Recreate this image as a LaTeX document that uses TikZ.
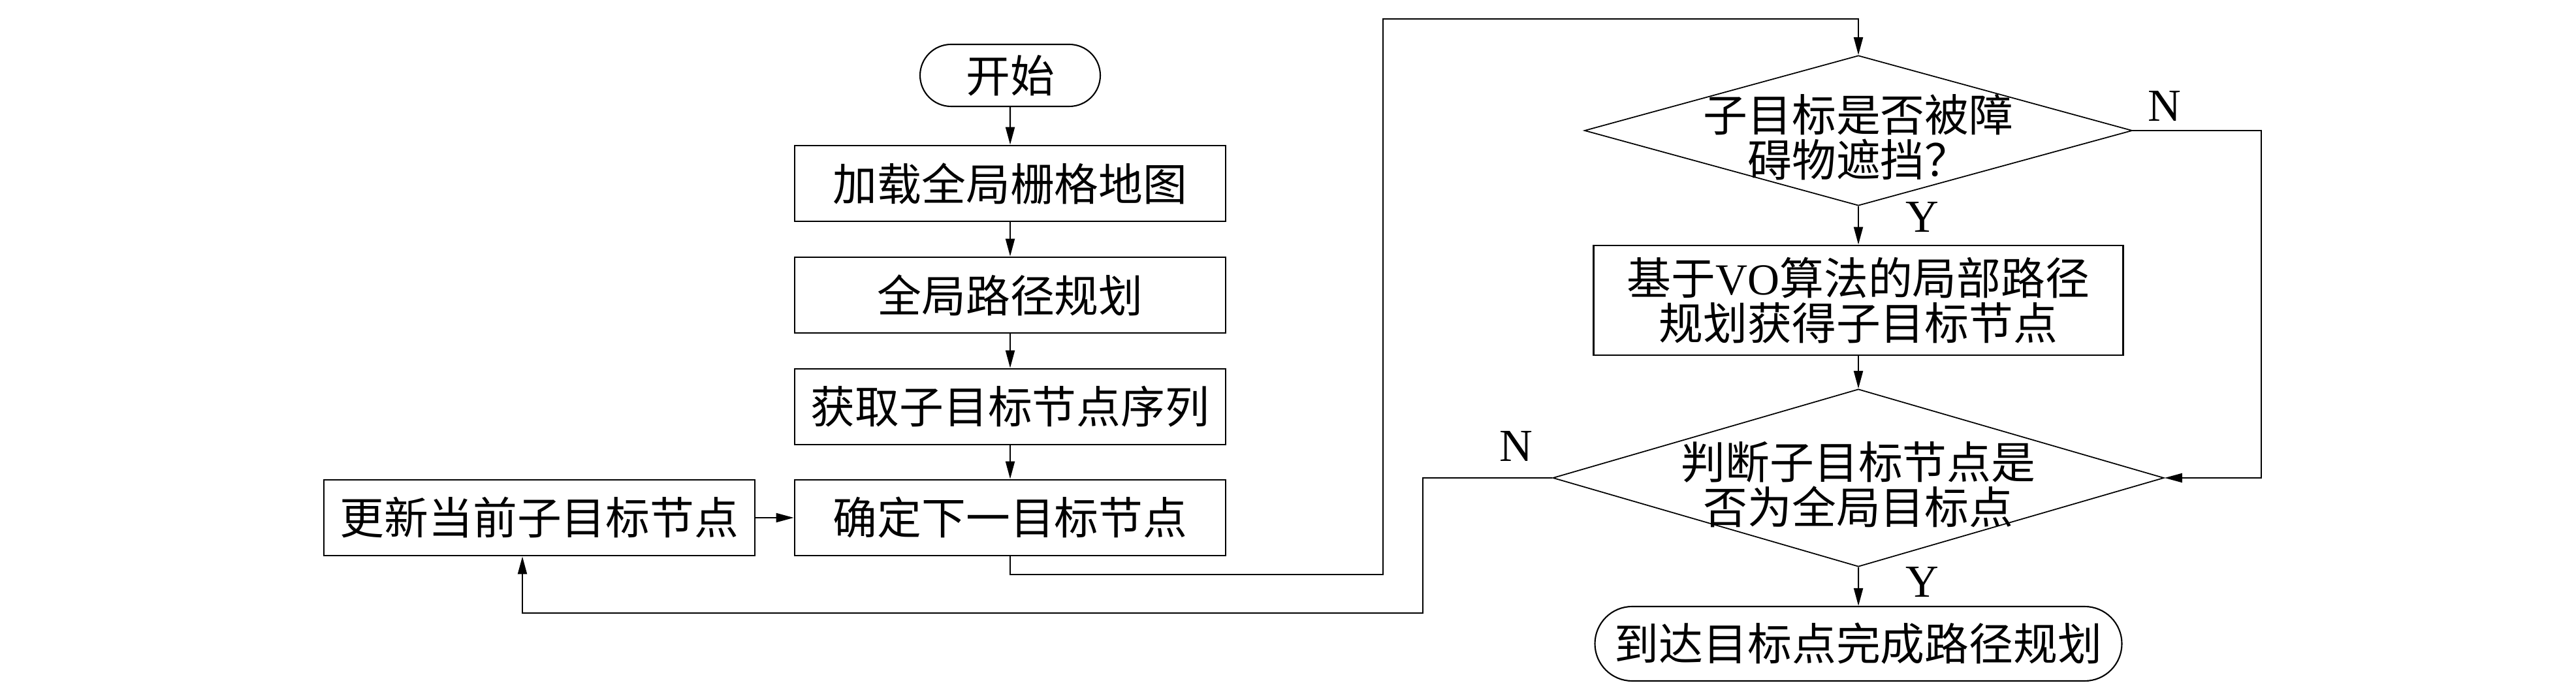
\documentclass[tikz,border=0pt]{standalone}
\usepackage{fontspec}
\setmainfont{Liberation Serif}
\newfontfamily\cjk{Noto Sans CJK SC}
\usetikzlibrary{shapes.geometric,shapes.misc,arrows.meta}

\begin{document}
\begin{tikzpicture}[font=\cjk\fontsize{19.3pt}{19.6pt}\selectfont,
           box_style/.style={rectangle,draw=black,line width=0.8pt,minimum width=6.6cm,minimum height=1.16cm,inner sep=0pt},
           term_style/.style={rounded rectangle,draw=black,line width=0.6pt,minimum height=0.95cm,inner sep=0pt},
           cond_style/.style={diamond,draw=black,line width=0.5pt,inner sep=0pt},
           cond_text/.style={align=center,yshift=-0.1cm},
           yn_style/.style={font=\rmfamily\fontsize{20pt}{20pt}\selectfont},
           edge_style/.style={draw=black,line width=0.6pt},
           arrow_style/.style={edge_style,-{Triangle[length=2.7mm,width=1.4mm]}}]
            \useasboundingbox (0,0) rectangle (39.45,-10.63);
            % left column
            \node[term_style,minimum width=2.76cm] (v0) at (15.47,-1.155) {开始};
            \node[box_style] (v1) at (15.47,-2.81) {加载全局栅格地图};
            \node[box_style] (v2) at (15.47,-4.52) {全局路径规划};
            \node[box_style] (v3) at (15.47,-6.23) {获取子目标节点序列};
            \node[box_style] (v4) at (15.47,-7.93) {确定下一目标节点};
            \node[box_style] (v5) at (8.26,-7.93) {更新当前子目标节点};
            % right column
            \node[cond_style,minimum width=8.39cm,minimum height=2.30cm,
                  label={[cond_text]center:子目标是否被障\\碍物遮挡？}] (v6) at (28.46,-2.0) {};
            \node[box_style,minimum width=8.11cm,minimum height=1.68cm,align=center] (v7) at (28.46,-4.60)
                  {基于{\rmfamily VO}算法的局部路径\\规划获得子目标节点};
            \node[cond_style,minimum width=9.36cm,minimum height=2.72cm,
                  label={[cond_text]center:判断子目标节点是\\否为全局目标点}] (v8) at (28.46,-7.32) {};
            \node[term_style,minimum width=8.07cm,minimum height=1.14cm] (v9) at (28.46,-9.86) {到达目标点完成路径规划};
            % bends
            \coordinate (k1) at (21.18,-8.80);
            \coordinate (k2) at (28.46,-0.29);
            \coordinate (k3) at (34.63,-2.0);
            \coordinate (k4) at (21.79,-9.39);
            \coordinate (k5) at (8.00,-9.39);
            \node[yn_style] (n1) at (33.15,-1.62) {N};
            \node[yn_style] (y1) at (29.44,-3.32) {Y};
            \node[yn_style] (n2) at (23.22,-6.83) {N};
            \node[yn_style] (y2) at (29.44,-8.91) {Y};
            \draw[arrow_style]  (v0) -- (v1);
            \draw[arrow_style]  (v1) -- (v2);
            \draw[arrow_style]  (v2) -- (v3);
            \draw[arrow_style]  (v3) -- (v4);
            \draw[arrow_style]  (v5) -- (v4);
            \draw[arrow_style]  (v4.south) |- (k1) |- (k2) -- (v6.north);
            \draw[arrow_style]  (v6) -- (v7);
            \draw[arrow_style]  (v7) -- (v8);
            \draw[arrow_style]  (v8) -- (v9);
            \draw[arrow_style]  (v6.east) -- (k3) |- (v8.east);
            \draw[arrow_style]  (v8.west) -| (k4) -- (k5) -- (v5.south -| k5);
        \end{tikzpicture}
\end{document}
